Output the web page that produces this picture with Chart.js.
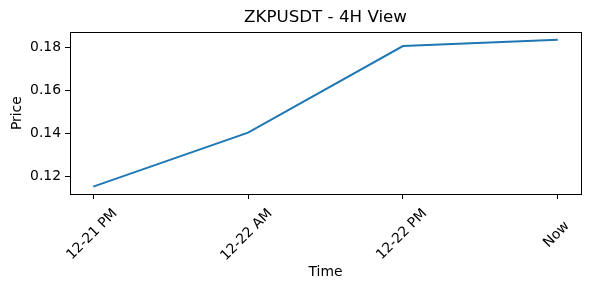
<!DOCTYPE html>
<html>
<head>
<meta charset="utf-8">
<script src="https://cdn.jsdelivr.net/npm/chart.js@4.4.1/dist/chart.umd.min.js"></script>
<style>
  html, body { margin: 0; padding: 0; background: #fff; }
  #wrap { width: 590px; height: 290px; }
</style>
</head>
<body>
<div id="wrap"><canvas id="c" width="590" height="290"></canvas></div>
<script>
const chartTitle = 'ZKPUSDT - 4H View';
const xLabels = ['12-21 PM', '12-22 AM', '12-22 PM', 'Now'];
const prices = [0.1152, 0.1403, 0.1805, 0.1835];
const yTickValues = [0.12, 0.14, 0.16, 0.18];

const FONT = 'DejaVu Sans';
const TICK_SIZE = 13.9;

// pad shorter labels with trailing spaces so rotated labels are centred on their ticks
const mctx = document.createElement('canvas').getContext('2d');
mctx.font = TICK_SIZE + 'px "' + FONT + '"';
const widths = xLabels.map(l => mctx.measureText(l).width);
const maxW = Math.max(...widths);
function padLabel(i) {
  let s = xLabels[i];
  const target = (maxW - widths[i]) / 2;
  while (mctx.measureText(s).width - widths[i] < target - 2) s += ' ';
  return s;
}

const n = prices.length;
const yMinData = Math.min(...prices), yMaxData = Math.max(...prices);
const yMargin = (yMaxData - yMinData) * 0.05;
const xMin = -0.05 * (n - 1), xMax = (n - 1) * 1.05;

const framePlugin = {
  id: 'frame',
  afterDraw(chart) {
    const { ctx, chartArea: a } = chart;
    ctx.save();
    ctx.strokeStyle = '#000';
    ctx.lineWidth = 1;
    ctx.strokeRect(Math.round(a.left) + 0.5, Math.round(a.top) + 0.5,
                   Math.round(a.right - a.left), Math.round(a.bottom - a.top));
    ctx.restore();
  }
};

new Chart(document.getElementById('c'), {
  type: 'line',
  data: {
    datasets: [{
      data: prices.map((p, i) => ({ x: i, y: p })),
      borderColor: '#1f77b4',
      borderWidth: 2,
      pointRadius: 0,
      tension: 0,
      fill: false
    }]
  },
  options: {
    responsive: false,
    animation: false,
    layout: { padding: { left: 0, right: 9, top: 0, bottom: 0 } },
    plugins: {
      legend: { display: false },
      tooltip: { enabled: false },
      title: { display: false }
    },
    scales: {
      xTop: {
        type: 'linear',
        position: 'top',
        min: xMin,
        max: xMax,
        afterFit(scale) { scale.height = 32.3; },
        ticks: { display: false },
        grid: { display: false, drawTicks: false },
        border: { display: false },
        title: {
          display: true,
          text: chartTitle,
          color: '#000',
          font: { family: FONT, size: 16.7, weight: 'normal' },
          padding: { top: 8, bottom: 0 }
        }
      },
      x: {
        type: 'linear',
        min: xMin,
        max: xMax,
        afterBuildTicks(scale) { scale.ticks = xLabels.map((_, i) => ({ value: i })); },
        afterFit(scale) { scale.height = 96; },
        ticks: {
          autoSkip: false,
          minRotation: 45,
          maxRotation: 45,
          labelOffset: 22,
          padding: 6.6,
          color: '#000',
          font: { family: FONT, size: TICK_SIZE },
          callback: (v) => padLabel(v)
        },
        grid: { drawOnChartArea: false, drawTicks: true, tickLength: 5, color: '#000', tickWidth: 1 },
        border: { display: true, color: '#000', width: 1 },
        title: {
          display: true, text: 'Time', color: '#000',
          font: { family: FONT, size: TICK_SIZE },
          padding: { top: 0, bottom: 9.7 }
        }
      },
      y: {
        type: 'linear',
        min: yMinData - yMargin,
        max: yMaxData + yMargin,
        afterBuildTicks(scale) { scale.ticks = yTickValues.map(v => ({ value: v })); },
        afterFit(scale) { scale.width = 70; },
        ticks: {
          padding: 4,
          color: '#000',
          font: { family: FONT, size: TICK_SIZE },
          callback: (v) => v.toFixed(2)
        },
        grid: { drawOnChartArea: false, drawTicks: true, tickLength: 5, color: '#000', tickWidth: 1 },
        border: { display: true, color: '#000', width: 1 },
        title: {
          display: true, text: 'Price', color: '#000',
          font: { family: FONT, size: TICK_SIZE },
          padding: { top: 9, bottom: 0 }
        }
      }
    }
  },
  plugins: [framePlugin]
});
</script>
</body>
</html>
